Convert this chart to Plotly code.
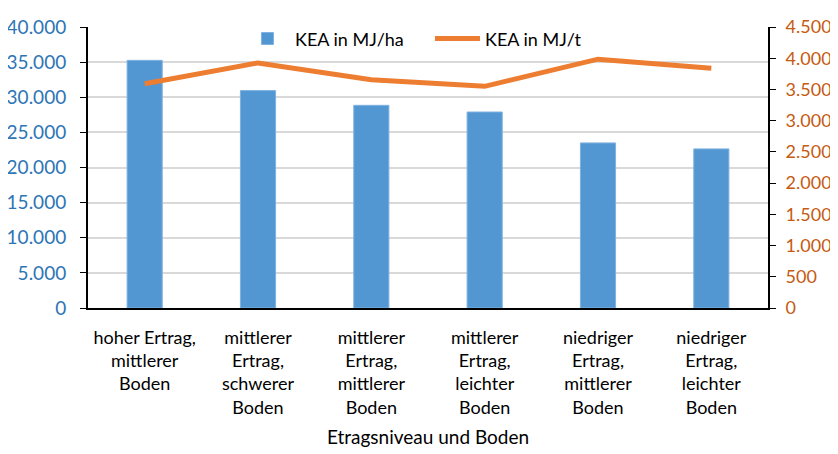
import plotly.graph_objects as go

# Categories (Ertragsniveau und Boden)
categories = [
    'hoher Ertrag,<br>mittlerer<br>Boden',
    'mittlerer<br>Ertrag,<br>schwerer<br>Boden',
    'mittlerer<br>Ertrag,<br>mittlerer<br>Boden',
    'mittlerer<br>Ertrag,<br>leichter<br>Boden',
    'niedriger<br>Ertrag,<br>mittlerer<br>Boden',
    'niedriger<br>Ertrag,<br>leichter<br>Boden',
]

kea_ha = [35250, 30950, 28850, 27900, 23500, 22650]   # KEA in MJ/ha
kea_t = [3590, 3925, 3655, 3550, 3985, 3840]          # KEA in MJ/t

font_name = 'Lato'

fig = go.Figure()

# Bars - left axis
fig.add_trace(
    go.Bar(
        name = 'KEA in MJ/ha',
        x = categories,
        y = kea_ha,
        marker_color = '#5397d2',
        marker_line = dict(color = '#7fb2e0', width = 1),
        width = 0.31
    )
)

# Line - right axis
fig.add_trace(
    go.Scatter(
        name = 'KEA in MJ/t',
        x = categories,
        y = kea_t,
        yaxis = 'y2',
        mode = 'lines',
        line = dict(color = '#ed7d31', width = 5)
    )
)

# page body has an 8px margin, so the figure is a bit smaller than the window
fig.update_layout(
    width = 830,
    height = 446,
    margin = dict(l = 80, r = 70, t = 13, b = 146),
    plot_bgcolor = 'white',
    paper_bgcolor = 'white',
    separators = ',.',
    font = dict(family = font_name, size = 17, color = '#000000'),
    showlegend = True,
    legend = dict(
        orientation = 'h',
        x = 0.2235, xanchor = 'left',
        y = 0.958, yanchor = 'middle',
        font = dict(size = 18),
        bgcolor = 'rgba(0,0,0,0)',
        itemwidth = 45,
        entrywidth = 130
    ),

    xaxis = dict(
        automargin = False,
        showline = True,
        linecolor = '#000000',
        linewidth = 2,
        ticks = '',
        ticklabelstandoff = 12,
        tickfont = dict(size = 18),
        title = dict(text = 'Etragsniveau und Boden', font = dict(size = 19), standoff = 14)
    ),

    yaxis = dict(
        automargin = False,
        range = [0, 40000],
        dtick = 5000,
        tickformat = ',.0f',
        showline = True,
        linecolor = '#000000',
        linewidth = 2,
        ticks = 'outside',
        ticklen = 6,
        tickcolor = '#000000',
        ticklabelstandoff = 10,
        tickfont = dict(size = 19, color = '#2e75b6'),
        gridcolor = '#d9d9d9',
        gridwidth = 1.5,
        zeroline = False
    ),

    yaxis2 = dict(
        automargin = False,
        overlaying = 'y',
        side = 'right',
        range = [0, 4500],
        dtick = 500,
        tickformat = ',.0f',
        showline = True,
        linecolor = '#000000',
        linewidth = 2,
        ticks = 'outside',
        ticklen = 6,
        tickcolor = '#000000',
        ticklabelstandoff = 6,
        tickfont = dict(size = 18, color = '#c55a11'),
        showgrid = False,
        zeroline = False
    )
)

fig.write_html('out.html')
